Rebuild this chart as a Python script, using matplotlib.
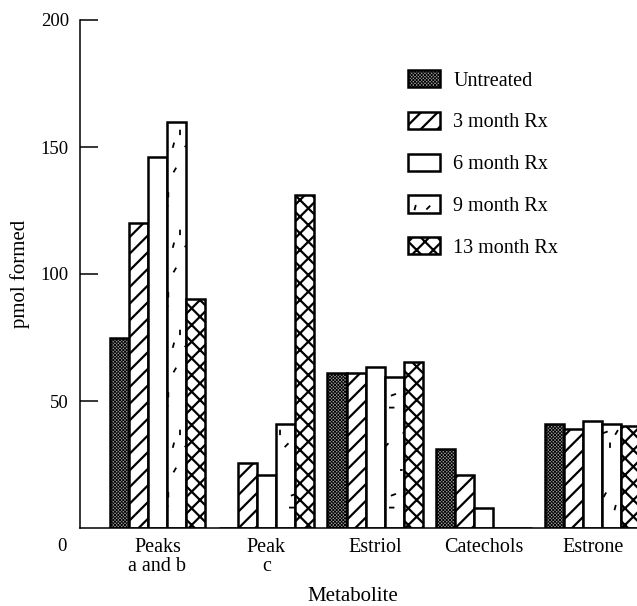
import warnings
import numpy as np
import matplotlib
matplotlib.use("Agg")
import matplotlib.pyplot as plt
import matplotlib.hatch as mhatch
from matplotlib.path import Path

warnings.filterwarnings("ignore")

# ---- data -------------------------------------------------------------
metabolites = ["Peaks\na and b", "Peak\nc", "Estriol", "Catechols", "Estrone"]
series_names = ["Untreated", "3 month Rx", "6 month Rx", "9 month Rx", "13 month Rx"]
untreated = [75, 0, 61, 31, 41]
month3 = [120, 25.5, 61, 21, 39]
month6 = [146, 21, 63.5, 8, 42]
month9 = [160, 41, 59.5, 0, 41]
month13 = [90, 131, 65.5, 0, 40]
yticks = [50, 100, 150, 200]


# ---- a sparse "speckle" hatch made of short scattered dashes -----------
class SpeckleHatch(mhatch.HatchPatternBase):
    cols, rows = 5, 5

    def __init__(self, hatch, density):
        self.num_marks = (self.cols * self.rows) if "~" in hatch else 0
        self.num_vertices = self.num_marks * 2

    def set_vertices_and_codes(self, vertices, codes):
        c, r = np.meshgrid(np.arange(self.cols), np.arange(self.rows))
        c, r = c.ravel(), r.ravel()
        jx = ((c * 3 + r * 5) % 7 - 3) / 7 * 0.6
        jy = ((c * 5 + r * 2) % 5 - 2) / 5 * 0.6
        cx = (c + 0.5 + jx + 0.5 * (r % 2)) / self.cols % 1.0
        cy = (r + 0.5 + jy) / self.rows
        ang = np.deg2rad(np.array([60, 100, 0, 75, 120, 45, 90, 135, 20])[(c * 2 + r * 3) % 9])
        half = 0.018
        dx, dy = half * np.cos(ang), half * np.sin(ang)
        vertices[0::2, 0] = cx - dx
        vertices[0::2, 1] = cy - dy
        vertices[1::2, 0] = cx + dx
        vertices[1::2, 1] = cy + dy
        codes[0::2] = Path.MOVETO
        codes[1::2] = Path.LINETO


mhatch._hatch_types.append(SpeckleHatch)

# ---- style ------------------------------------------------------------
serif = ["Liberation Serif", "DejaVu Serif"]
plt.rcParams["font.family"] = serif
plt.rcParams["hatch.linewidth"] = 1.6

styles = [
    dict(facecolor="#9a9a9a", hatch="xxxxxxxxxx"),
    dict(facecolor="white", hatch="//"),
    dict(facecolor="white", hatch=None),
    dict(facecolor="white", hatch="~"),
    dict(facecolor="white", hatch="xx"),
]
fine_hatch_lw = [0.6, None, None, 1.3, None]


def thin_hatch(patches, lw):
    if lw is None:
        return
    for p in patches:
        if hasattr(p, "set_hatch_linewidth"):
            p.set_hatch_linewidth(lw)


W, H = 637, 606
fig = plt.figure(figsize=(W / 100, H / 100), dpi=100)
ax = fig.add_axes([80 / W, 78 / H, 1 - 80 / W, (528 - 20) / H])

x = np.arange(len(metabolites))
width = 0.175
all_series = [untreated, month3, month6, month9, month13]
handles = []
for i, (vals, name, st) in enumerate(zip(all_series, series_names, styles)):
    bars = ax.bar(x + (i - 2) * width, vals, width, label=name,
                  edgecolor="black", linewidth=1.8, zorder=2, **st)
    thin_hatch(bars, fine_hatch_lw[i])
    handles.append(bars)

ax.set_ylim(0, 200)
ax.set_xlim(-0.712, 4.407)
ax.spines["top"].set_visible(False)
ax.spines["right"].set_visible(False)
ax.spines["left"].set_linewidth(1.1)
ax.spines["bottom"].set_linewidth(1.1)

ax.set_yticks(yticks)
ax.set_yticklabels([str(v) for v in yticks])
ax.tick_params(axis="y", direction="in", length=13, width=1.1, pad=8, labelsize=13.5)
ax.set_xticks(x)
ax.set_xticklabels(metabolites, linespacing=1.05)
ax.tick_params(axis="x", length=0, pad=7, labelsize=14.5)

ax.annotate("0", xy=(0, 0), xycoords=("axes fraction", "data"),
            xytext=(-13, -13), textcoords="offset points",
            ha="center", va="center", fontsize=13.5)

ax.set_ylabel("pmol formed", fontsize=15)
ax.set_xlabel("Metabolite", fontsize=15)
ax.yaxis.set_label_coords(-0.09, 0.5)
ax.xaxis.set_label_coords(0.49, -0.116)

leg = ax.legend(handles=handles, loc="upper left",
                bbox_to_anchor=(408 / W, 1 - 70 / H), bbox_transform=fig.transFigure,
                frameon=False, fontsize=14.5, handlelength=1.6, handleheight=0.95,
                labelspacing=1.05, handletextpad=0.65, borderpad=0, borderaxespad=0)
for h, lw in zip(leg.legend_handles, fine_hatch_lw):
    thin_hatch([h], lw)

fig.savefig("out.png", dpi=100)
